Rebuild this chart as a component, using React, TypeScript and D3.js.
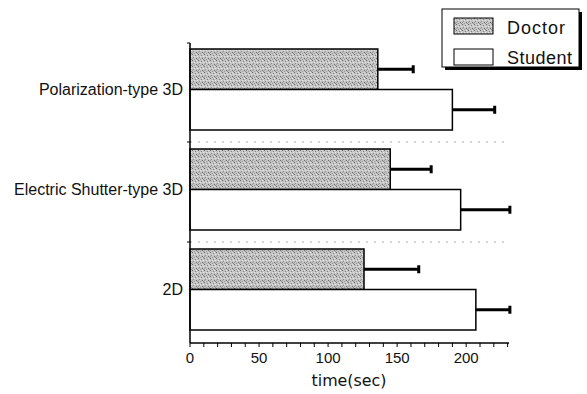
import React from "react";
import * as d3 from "d3";

const categories = ["Polarization-type 3D", "Electric Shutter-type 3D", "2D"];
const seriesNames = ["Doctor", "Student"];
const doctorMean = [136, 145, 126];
const doctorErr = [26, 30, 40];
const studentMean = [190, 196, 207];
const studentErr = [31, 36, 25];
const xTicks = [0, 50, 100, 150, 200];

const W = 587;
const H = 394;

export default function App() {
  const x = d3.scaleLinear().domain([0, 231]).range([190, 509]);
  const y = d3.scaleBand<string>().domain(categories).range([43, 343]).paddingInner(0).paddingOuter(0);
  const sub = d3.scaleBand<string>().domain(seriesNames).range([6, 87]).padding(0);
  const minor = d3.range(0, 231, 10);
  const font = "Liberation Sans, Arial, sans-serif";
  const series = [
    { name: "Doctor", mean: doctorMean, err: doctorErr, fill: "url(#grain)", tl: 58 },
    { name: "Student", mean: studentMean, err: studentErr, fill: "#fff", tl: 65 },
  ];
  return (
    <svg width={W} height={H} style={{ position: "absolute", left: 0, top: 0, background: "#fff" }}>
      <defs>
        <pattern id="grain" width="6" height="6" patternUnits="userSpaceOnUse">
          <rect width="6" height="6" fill="#c4c4c4" />
          <rect x="0" y="0" width="1" height="1" fill="#6a6a6a" />
          <rect x="3" y="1" width="1" height="1" fill="#808080" />
          <rect x="1" y="3" width="1" height="1" fill="#8c8c8c" />
          <rect x="4" y="4" width="1" height="1" fill="#6a6a6a" />
          <rect x="2" y="5" width="1" height="1" fill="#999" />
          <rect x="5" y="2" width="1" height="1" fill="#e8e8e8" />
          <rect x="2" y="2" width="1" height="1" fill="#e8e8e8" />
          <rect x="5" y="5" width="1" height="1" fill="#8c8c8c" />
          <rect x="4" y="0" width="1" height="1" fill="#e0e0e0" />
          <rect x="0" y="4" width="1" height="1" fill="#a0a0a0" />
        </pattern>
      </defs>
      {/* group separators */}
      {categories.slice(1).map((c) => (
        <line key={c} x1={x(0)} x2={x(231)} y1={y(c)! - 1} y2={y(c)! - 1} stroke="#aaa" strokeDasharray="2 6" strokeWidth={1} />
      ))}
      {/* bars */}
      {series.map((s) =>
        categories.map((c, i) => {
          const y0 = y(c)! + sub(s.name)!;
          const h = sub.bandwidth();
          const xe = x(s.mean[i] + s.err[i]);
          const ym = y0 + h / 2;
          return (
            <g key={s.name + c}>
              <rect x={x(0)} y={y0} width={x(s.mean[i]) - x(0)} height={h} fill={s.fill} stroke="#000" strokeWidth={1.5} />
              <line x1={x(s.mean[i])} x2={xe} y1={ym} y2={ym} stroke="#000" strokeWidth={3} />
              <rect x={xe - 2} y={ym - 4} width={3} height={8} fill="#000" />
            </g>
          );
        })
      )}
      {/* y axis */}
      <line x1={x(0)} x2={x(0)} y1={43} y2={343} stroke="#000" strokeWidth={1.5} />
      {[43, ...categories.slice(1).map((c) => y(c)! - 1)].map((v) => (
        <line key={v} x1={x(0) - 3} x2={x(0)} y1={v} y2={v} stroke="#000" strokeWidth={1} />
      ))}
      {categories.map((c) => (
        <text key={c} x={183} y={y(c)! + sub("Student")! + 5} textAnchor="end" fontFamily={font} fontSize={16} fill="#111">
          {c}
        </text>
      ))}
      {/* x axis */}
      <line x1={x(0)} x2={x(231)} y1={343} y2={343} stroke="#000" strokeWidth={1.5} />
      {minor.map((v) => (
        <line key={v} x1={x(v)} x2={x(v)} y1={343} y2={347} stroke="#000" strokeWidth={1} />
      ))}
      {xTicks.map((v) => (
        <text key={v} x={x(v)} y={363} textAnchor="middle" fontFamily={font} fontSize={15} fill="#111">
          {v}
        </text>
      ))}
      <text x={349} y={386} textAnchor="middle" fontFamily="DejaVu Sans, sans-serif" fontSize={16} textLength={75} lengthAdjust="spacingAndGlyphs" fill="#111">
        time(sec)
      </text>
      {/* legend */}
      <rect x={445} y={12} width={137} height={58} fill="#000" />
      <rect x={442} y={9} width={137} height={58} fill="#fff" stroke="#000" strokeWidth={1} />
      {series.map((s, i) => (
        <g key={s.name}>
          <rect x={454} y={18 + i * 31} width={39} height={16} fill={s.fill} stroke="#000" strokeWidth={1} />
          <text x={507} y={34 + i * 30} fontFamily={font} fontSize={18} textLength={s.tl} lengthAdjust="spacing" fill="#111">
            {s.name}
          </text>
        </g>
      ))}
    </svg>
  );
}
